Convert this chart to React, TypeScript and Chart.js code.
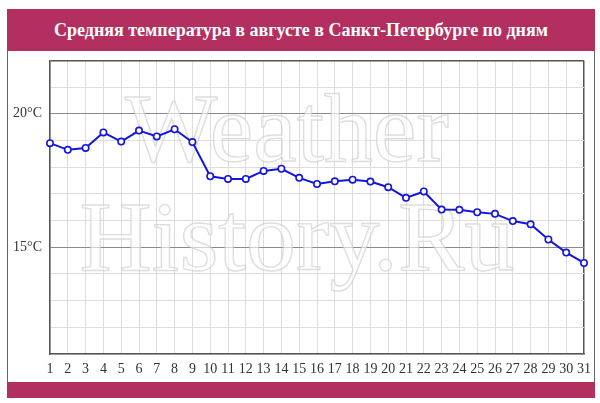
import React, { useEffect, useRef } from "react";
import { Chart, registerables } from "chart.js";

Chart.register(...registerables);

const TITLE = "Средняя температура в августе в Санкт-Петербурге по дням";
const DAYS = [
  "1", "2", "3", "4", "5", "6", "7", "8", "9", "10", "11", "12", "13", "14", "15", "16",
  "17", "18", "19", "20", "21", "22", "23", "24", "25", "26", "27", "28", "29", "30", "31",
];
const TEMPS = [
  18.9, 18.65, 18.72, 19.3, 18.96, 19.37, 19.15, 19.42, 18.94, 17.66, 17.56, 17.56, 17.86,
  17.94, 17.6, 17.37, 17.47, 17.53, 17.46, 17.25, 16.85, 17.09, 16.41, 16.4, 16.31, 16.25,
  15.98, 15.86, 15.29, 14.8, 14.41,
];
const Y_MIN = 11;
const Y_MAX = 22;
const Y_LABELED = [15, 20];
const WATERMARK = ["Weather", "History.Ru"];

const watermarkPlugin = {
  id: "watermark",
  beforeDatasetsDraw(chart: any) {
    const ctx = chart.ctx;
    const top = chart.chartArea.top;
    ctx.save();
    ctx.textAlign = "center";
    ctx.textBaseline = "alphabetic";
    ctx.font = "98px 'Liberation Serif', serif";
    ctx.fillStyle = "rgba(255,255,255,0.6)";
    ctx.strokeStyle = "rgba(200,200,200,0.6)";
    ctx.lineWidth = 1.4;
    ctx.fillText(WATERMARK[0], 287, top + 101);
    ctx.strokeText(WATERMARK[0], 287, top + 101);
    ctx.font = "100px 'Liberation Serif', serif";
    ctx.fillText(WATERMARK[1], 297, top + 210);
    ctx.strokeText(WATERMARK[1], 297, top + 210);
    ctx.restore();
  },
};

export default function App() {
  const ref = useRef<HTMLCanvasElement>(null);
  useEffect(() => {
    if (!ref.current) return;
    const chart = new Chart(ref.current, {
      type: "line",
      data: {
        labels: DAYS,
        datasets: [
          {
            data: TEMPS,
            borderColor: "#1515e0",
            borderWidth: 2,
            pointRadius: 3.2,
            pointBorderWidth: 1.6,
            pointBackgroundColor: "#ffffff",
            pointBorderColor: "#1515e0",
            tension: 0,
          },
        ],
      },
      options: {
        animation: false,
        responsive: true,
        maintainAspectRatio: false,
        layout: { padding: { left: 0, right: 16, top: 2, bottom: 0 } },
        plugins: { legend: { display: false }, tooltip: { enabled: false }, title: { display: false } },
        scales: {
          x: {
            offset: false,
            afterFit: (s: any) => {
              s.height = 28;
            },
            grid: {
              drawTicks: false,
              color: (c: any) => (c.index === DAYS.length - 1 ? "#555555" : "#dddddd"),
              lineWidth: (c: any) => (c.index === DAYS.length - 1 ? 1.5 : 1),
            },
            border: { color: "#555555", width: 1.5 },
            ticks: {
              autoSkip: false,
              maxRotation: 0,
              padding: 7,
              color: "#333333",
              font: { family: "'Liberation Serif', serif", size: 14 },
            },
          },
          y: {
            min: Y_MIN,
            max: Y_MAX,
            afterFit: (s: any) => {
              s.width = 50;
            },
            grid: {
              drawTicks: false,
              color: (c: any) => {
                const v = c.tick && c.tick.value;
                if (v === Y_MAX) return "#555555";
                if (Y_LABELED.includes(v)) return "#8a8a8a";
                return "#dddddd";
              },
              lineWidth: (c: any) => (c.tick && c.tick.value === Y_MAX ? 1.5 : 1),
            },
            border: { color: "#555555", width: 1.5 },
            ticks: {
              stepSize: 1,
              padding: 8,
              color: "#333333",
              font: { family: "'Liberation Serif', serif", size: 14 },
              callback: (v: any) => (Y_LABELED.includes(Number(v)) ? `${v}°C` : ""),
            },
          },
        },
      },
      plugins: [watermarkPlugin],
    });
    return () => chart.destroy();
  }, []);

  return (
    <div>
      <div
        style={{
          position: "absolute",
          left: 7,
          top: 9,
          width: 586,
          height: 388,
          borderLeft: "1px solid #666",
          borderRight: "1px solid #666",
          borderBottom: "1px solid #666",
          background: "#ffffff",
        }}
      />
      <div
        style={{
          position: "absolute",
          left: 7,
          top: 9,
          width: 588,
          height: 42,
          background: "#b32f5f",
          color: "#ffffff",
          textAlign: "center",
          lineHeight: "42px",
          fontFamily: "'Liberation Serif', serif",
          fontWeight: "bold",
          fontSize: 18,
        }}
      >
        {TITLE}
      </div>
      <div style={{ position: "absolute", left: 0, top: 44, width: 600, height: 338 }}>
        <canvas ref={ref} />
      </div>
      <div
        style={{
          position: "absolute",
          left: 7,
          top: 382,
          width: 588,
          height: 16,
          background: "#b32f5f",
        }}
      />
    </div>
  );
}
